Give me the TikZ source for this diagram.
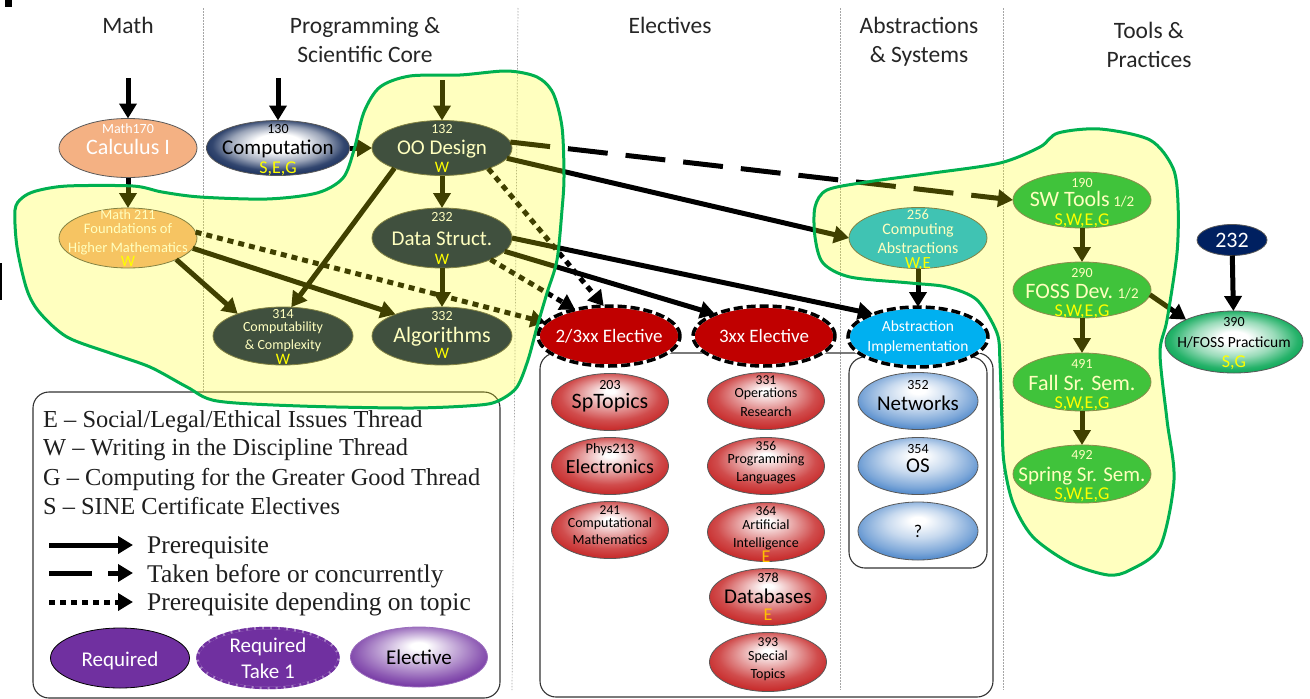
\documentclass[tikz,border=0pt]{standalone}
\usepackage{fontspec}
\setmainfont{Liberation Serif}
\newfontfamily\calf{Carlito}
\usetikzlibrary{arrows.meta,shapes.geometric,calc}
\definecolor{salmon}{RGB}{244,177,131}
\definecolor{corenavy}{RGB}{0,22,84}
\definecolor{navy}{RGB}{0,32,96}
\definecolor{skyb}{RGB}{0,176,240}
\definecolor{grn}{RGB}{0,176,80}
\definecolor{dred}{RGB}{192,0,0}
\definecolor{purp}{RGB}{112,48,160}
\definecolor{elred}{RGB}{200,45,45}
\definecolor{elblue}{RGB}{70,130,200}
\definecolor{compnavy}{RGB}{28,50,95}
\definecolor{hgreen}{RGB}{0,165,80}
\definecolor{thr}{RGB}{255,255,0}
\definecolor{thro}{RGB}{255,192,0}
\definecolor{hlgreen}{RGB}{0,176,80}
\pgfdeclareradialshading{redsh}{\pgfpoint{0bp}{10bp}}{color(0bp)=(white);color(2bp)=(white);color(11bp)=(elred!40!white);color(21bp)=(elred!85!white);color(27bp)=(elred);color(40bp)=(elred!85!black)}
\pgfdeclareradialshading{bluesh}{\pgfpoint{0bp}{10bp}}{color(0bp)=(white);color(3bp)=(white);color(13bp)=(elblue!30!white);color(23bp)=(elblue!70!white);color(29bp)=(elblue);color(40bp)=(elblue!85!black)}
\pgfdeclareradialshading{compsh}{\pgfpoint{0bp}{6bp}}{color(0bp)=(white);color(8bp)=(white);color(17bp)=(compnavy!45!white);color(23bp)=(compnavy!90!white);color(27bp)=(compnavy);color(40bp)=(compnavy)}
\pgfdeclareradialshading{grnsh}{\pgfpoint{0bp}{4bp}}{color(0bp)=(white);color(5bp)=(white);color(15bp)=(hgreen!40!white);color(23bp)=(hgreen!85!white);color(28bp)=(hgreen);color(40bp)=(hgreen)}
\pgfdeclareradialshading{purpsh}{\pgfpoint{0bp}{10bp}}{color(0bp)=(white);color(3bp)=(white);color(13bp)=(purp!40!white);color(23bp)=(purp!80!white);color(29bp)=(purp);color(40bp)=(purp)}
\newcommand\fsz[1]{\fontsize{#1}{#1}\selectfont}
\newcommand\tln[3]{\makebox[0pt]{\raisebox{#1pt}[0pt][0pt]{\fsz{#2}#3}}}
\newcommand\yt[1]{\textcolor{thr}{#1}}
\newcommand\ot[1]{\textcolor{thro}{#1}}
\begin{document}
\begin{tikzpicture}[x=1pt,y=-1pt,
 ell/.style={ellipse,inner sep=0pt,outer sep=0pt,draw=black!65,line width=0.8pt,font=\calf},
 sz/.style 2 args={minimum width=#1pt,minimum height=#2pt},
 arr/.style={line width=5pt,-{Triangle[length=15pt,width=17pt]}},
 dotarr/.style={arr,dash pattern=on 6pt off 5pt},
 dasharr/.style={arr,dash pattern=on 40pt off 18pt},
 take1/.style={draw=white,line width=3.5pt,postaction={draw=black,line width=3.5pt,dash pattern=on 9pt off 4pt}},
 hdr/.style={font=\calf,inner sep=0pt,text=black!85},
 lt/.style={anchor=base west,inner sep=0pt,text=black!88},
 colsep/.style={black!35,line width=0.7pt,dash pattern=on 1.5pt off 1.5pt},
 roundbox/.style={draw=black!80,line width=1.1pt,rounded corners=16pt},
 hlfill/.style={fill=thr,fill opacity=0.25},
 hlline/.style={draw=hlgreen,line width=3pt}]
\useasboundingbox (0,0) rectangle (1310,699);
\fill[white] (0,0) rectangle (1310,699);
% column separators
\draw[colsep] (203,8) -- (203,690);
\draw[colsep] (518,8) -- (512,690);
\draw[colsep] (840,8) -- (840,690);
\draw[colsep] (1003,8) -- (1003,690);
% small marks
\fill[black] (5,0) rectangle (12,7);
\fill[black] (0,263) rectangle (1.5,300);
% headers
\node[hdr] (hmath) at (128,33) {\tln{0}{23.5}{Math}};
\node[hdr] (hprog) at (365,33) {\tln{0}{23.5}{Programming \&}\tln{-29}{23.5}{Scientific Core}};
\node[hdr] (helec) at (670,33) {\tln{0}{23.5}{Electives}};
\node[hdr] (habs) at (919,33) {\tln{0}{23.5}{Abstractions}\tln{-29}{23.5}{\& Systems}};
\node[hdr] (htools) at (1149,38) {\tln{0}{23.5}{Tools \&}\tln{-29}{23.5}{Practices}};
% boxes
\draw[roundbox] (540,353) rectangle (993,697);
\draw[roundbox] (849,357) rectangle (987,568);
\draw[roundbox,fill=white] (33,392) rectangle (500,698);
% core nodes
\node[ell,sz={138}{59},fill=salmon,text=white] (m170) at (128,148) {\tln{15}{14}{Math170}\tln{-6}{22}{Calculus I}};
\node[ell,sz={143}{55},shade,shading=compsh,text=black] (comp) at (278,148) {\tln{15}{14}{130}\tln{-6}{21}{Computation}\tln{-25}{18}{\yt{S,E,G}}};
\node[ell,sz={140}{55},fill=corenavy,text=white] (oo) at (442,148) {\tln{15}{14}{132}\tln{-6}{21}{OO Design}\tln{-24}{16}{\yt{W}}};
\node[ell,sz={138}{60},fill=salmon,text=white] (m211) at (128,238) {\tln{19}{14}{Math 211}\tln{5}{14.5}{Foundations of}\tln{-14}{14.5}{Higher Mathematics}\tln{-28}{16}{\yt{W}}};
\node[ell,sz={140}{60},fill=corenavy,text=white] (ds) at (442,238) {\tln{17}{14}{232}\tln{-7}{21}{Data Struct.}\tln{-26}{16}{\yt{W}}};
\node[ell,sz={140}{58},fill=corenavy,text=white] (cc) at (283,336) {\tln{18}{14}{314}\tln{5}{14}{Computability}\tln{-13}{14}{\& Complexity}\tln{-28}{16}{\yt{W}}};
\node[ell,sz={140}{58},fill=corenavy,text=white] (alg) at (442,336) {\tln{16}{14}{332}\tln{-6}{22}{Algorithms}\tln{-22}{16}{\yt{W}}};
% take-one nodes
\node[ell,sz={142}{60},fill=dred,text=white,take1] (e23) at (609,336) {\tln{-6}{19}{2/3xx Elective}};
\node[ell,sz={142}{60},fill=dred,text=white,take1] (e3) at (764,336) {\tln{-6}{19}{3xx Elective}};
\node[ell,sz={140}{60},fill=skyb,text=white,take1] (ai) at (918,337) {\tln{6}{15.5}{Abstraction}\tln{-14}{15.5}{Implementation}};
% abstractions / tools
\node[ell,sz={138}{61},fill=skyb,text=white] (ca) at (918,238) {\tln{19}{14.5}{256}\tln{4}{16}{Computing}\tln{-15}{16}{Abstractions}\tln{-30}{17}{\yt{W,E}}};
\node[ell,sz={138}{56},fill=grn,text=white,draw=black!60] (sw) at (1082,200) {\tln{13}{14}{190}\tln{-6}{22}{SW Tools{\fsz{15} 1/2}}\tln{-25}{18}{\yt{S,W,E,G}}};
\node[ell,sz={138}{56},fill=grn,text=white,draw=black!60] (fd) at (1082,290) {\tln{13}{14}{290}\tln{-8}{22}{FOSS Dev.{\fsz{15} 1/2}}\tln{-26}{18}{\yt{S,W,E,G}}};
\node[ell,sz={138}{58},fill=grn,text=white,draw=black!60] (fs) at (1082,382) {\tln{14}{14}{491}\tln{-8}{22}{Fall Sr. Sem.}\tln{-26}{18}{\yt{S,W,E,G}}};
\node[ell,sz={138}{58},fill=grn,text=white,draw=black!60] (ss) at (1082,474) {\tln{15}{14}{492}\tln{-7}{21}{Spring Sr. Sem.}\tln{-25}{18}{\yt{S,W,E,G}}};
\node[ell,sz={70}{31},fill=navy,text=white] (n232) at (1232,240) {\tln{-7}{22}{232}};
\node[ell,sz={138}{62},shade,shading=grnsh,text=black] (hp) at (1234,342) {\tln{16}{14}{390}\tln{-5}{15.5}{H/FOSS Practicum}\tln{-25}{18}{\yt{S,G}}};
% electives
\node[ell,sz={117}{57},shade,shading=redsh] (e203) at (610,402) {\tln{13}{14}{203}\tln{-6}{22}{SpTopics}};
\node[ell,sz={117}{57},shade,shading=redsh] (e213) at (610,466) {\tln{13}{14.5}{Phys213}\tln{-7}{20}{Electronics}};
\node[ell,sz={117}{57},shade,shading=redsh] (e241) at (610,530) {\tln{16}{13.5}{241}\tln{3}{14}{Computational}\tln{-14}{14}{Mathematics}};
\node[ell,sz={117}{57},shade,shading=redsh] (e331) at (766,401) {\tln{17}{13.5}{331}\tln{4}{14}{Operations}\tln{-15}{14}{Research}};
\node[ell,sz={117}{57},shade,shading=redsh] (e356) at (766,466) {\tln{16}{13.5}{356}\tln{3}{14}{Programming}\tln{-15}{14}{Languages}};
\node[ell,sz={117}{59},shade,shading=redsh] (e364) at (766,532) {\tln{17}{13.5}{364}\tln{3}{14}{Artificial}\tln{-15}{14}{Intelligence}\tln{-30}{18}{\ot{E}}};
\node[ell,sz={117}{57},shade,shading=redsh] (e378) at (768,597) {\tln{15}{14}{378}\tln{-6}{21}{Databases}\tln{-23}{18}{\ot{E}}};
\node[ell,sz={117}{59},shade,shading=redsh] (e393) at (768,662) {\tln{16}{13.5}{393}\tln{2}{14}{Special}\tln{-16}{14}{Topics}};
\node[ell,sz={120}{57},shade,shading=bluesh] (a352) at (918,401) {\tln{12}{14}{352}\tln{-9}{21}{Networks}};
\node[ell,sz={120}{57},shade,shading=bluesh] (a354) at (918,466) {\tln{13}{14}{354}\tln{-6}{21}{OS}};
\node[ell,sz={120}{58},shade,shading=bluesh] (aq) at (918,531) {\tln{-6}{18}{?}};
% legend
\node[lt,font=\fsz{24.4}] (l1) at (43,427) {E – Social/Legal/Ethical Issues Thread};
\node[lt,font=\fsz{24.4}] (l2) at (43,455) {W – Writing in the Discipline Thread};
\node[lt,font=\fsz{24.4}] (l3) at (43,485) {G – Computing for the Greater Good Thread};
\node[lt,font=\fsz{24.4}] (l4) at (43,514) {S – SINE Certificate Electives};
\node[lt,font=\fsz{25.5}] (l5) at (147,553) {Prerequisite};
\node[lt,font=\fsz{25.5}] (l6) at (147,582) {Taken before or concurrently};
\node[lt,font=\fsz{25.5}] (l7) at (147,610) {Prerequisite depending on topic};
\coordinate (la1) at (49,545); \coordinate (la2) at (133,545);
\coordinate (ld1) at (49,573); \coordinate (ld2) at (92,573);
\coordinate (ld3) at (108,573); \coordinate (ld4) at (133,573);
\coordinate (lp1) at (49,602); \coordinate (lp2) at (133,602);
\draw[arr] (la1) -- (la2);
\draw[line width=5pt] (ld1) -- (ld2);
\draw[arr] (ld3) -- (ld4);
\draw[dotarr] (lp1) -- (lp2);
\node[ell,sz={139}{60},fill=purp,draw=black,text=white] (lreq) at (120,658) {\tln{-8}{21}{Required}};
\node[ell,sz={141}{60},fill=purp,text=white,draw=purp!60!white,line width=2.5pt,postaction={draw=purp,line width=2.5pt,dash pattern=on 6pt off 2pt}] (lreq1) at (268,658) {\tln{6}{21}{Required}\tln{-20}{21}{Take 1}};
\node[ell,sz={137}{60},shade,shading=purpsh,draw=purp!70] (lelec) at (419,657) {\tln{-7}{21}{Elective}};
% incoming
\coordinate (in1) at (128,78);
\coordinate (in2) at (278,78);
\coordinate (in3) at (442,80);
\draw[arr] (in1) -- (m170);
\draw[arr] (in2) -- (comp);
\draw[arr] (in3) -- (oo);
% edges
\draw[arr] (m170) -- (m211);
\draw[arr] (comp) -- (oo);
\draw[arr] (oo) -- (ds);
\draw[arr] (ds) -- (alg);
\draw[arr] (oo.-157) -- (cc.74);
\draw[arr] (m211.-24) -- (cc.154);
\draw[arr] (m211.-9) -- (alg.155);
\draw[dotarr] (m211.5) -- (e23.168);
\draw[dotarr] (ds.-24) -- (e23.142);
\draw[dotarr] (oo.-24) -- (e23.100);
\draw[arr] (ds.-12) -- (e3.156);
\draw[arr] (ds.0) -- (ai.153);
\draw[arr] (oo.-9) -- (ca.180);
\draw[dasharr] (oo.5) -- (sw.180);
\draw[arr] (ca) -- (ai);
\draw[arr] (sw) -- (fd);
\draw[arr] (fd) -- (fs);
\draw[arr] (fs) -- (ss);
\draw[arr] (fd.-4) -- (hp.155);
\draw[arr] (n232) -- (hp);
% highlight regions
\fill[hlfill] plot[smooth cycle] coordinates {(17,247) (15,210) (22,198) (36,191) (67,186) (133,186) (162,192) (200,197) (267,199) (317,193) (343,178) (354,150) (364,112) (380,87) (410,76) (460,75) (507,71) (537,77) (553,93) (562,127) (564,177) (562,210) (557,260) (547,293) (537,327) (528,360) (517,387) (500,400) (480,405) (413,408) (300,406) (217,401) (187,387) (150,367) (110,353) (67,337) (40,313) (27,290)};
\draw[hlline] plot[smooth cycle] coordinates {(17,247) (15,210) (22,198) (36,191) (67,186) (133,186) (162,192) (200,197) (267,199) (317,193) (343,178) (354,150) (364,112) (380,87) (410,76) (460,75) (507,71) (537,77) (553,93) (562,127) (564,177) (562,210) (557,260) (547,293) (537,327) (528,360) (517,387) (500,400) (480,405) (413,408) (300,406) (217,401) (187,387) (150,367) (110,353) (67,337) (40,313) (27,290)};
\fill[hlfill] plot[smooth cycle] coordinates {(815,207) (827,190) (867,182) (933,173) (1000,163) (1040,147) (1058,133) (1100,129) (1150,140) (1173,168) (1178,203) (1177,253) (1167,320) (1160,353) (1167,420) (1174,480) (1160,547) (1130,570) (1108,575) (1070,563) (1033,537) (1013,503) (1004,463) (1002,423) (1000,363) (997,333) (977,300) (947,287) (910,283) (850,277) (823,263) (815,237)};
\draw[hlline] plot[smooth cycle] coordinates {(815,207) (827,190) (867,182) (933,173) (1000,163) (1040,147) (1058,133) (1100,129) (1150,140) (1173,168) (1178,203) (1177,253) (1167,320) (1160,353) (1167,420) (1174,480) (1160,547) (1130,570) (1108,575) (1070,563) (1033,537) (1013,503) (1004,463) (1002,423) (1000,363) (997,333) (977,300) (947,287) (910,283) (850,277) (823,263) (815,237)};
\end{tikzpicture}
\end{document}
